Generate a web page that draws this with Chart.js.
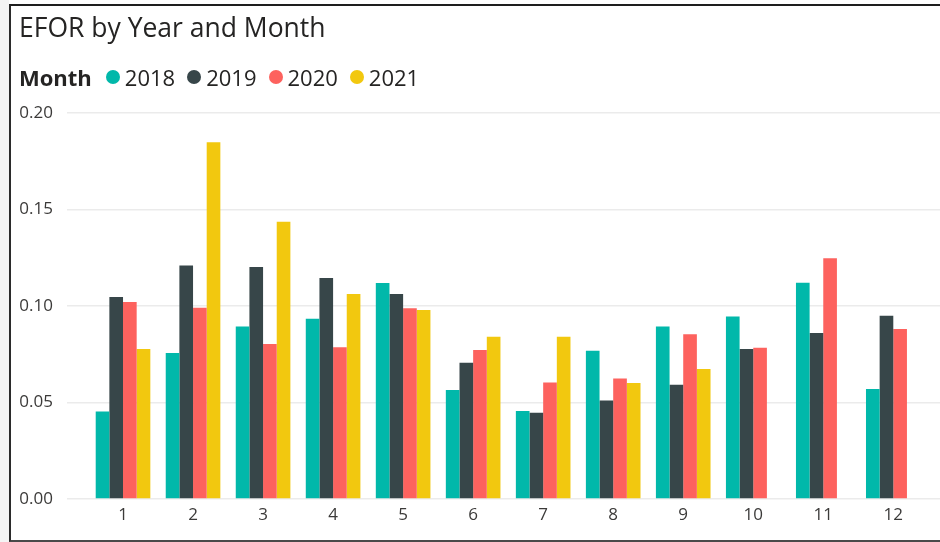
<!DOCTYPE html>
<html>
<head>
<meta charset="utf-8">
<title>EFOR by Year and Month</title>
<script src="https://cdn.jsdelivr.net/npm/chart.js@4.4.1/dist/chart.umd.min.js"></script>
<style>
  html, body { margin: 0; padding: 0; background: #fff; }
  body { width: 940px; height: 542px; position: relative; overflow: hidden; font-family: "Open Sans", "Noto Sans", sans-serif; }
  #sideStrip { position: absolute; left: 0; top: 0; width: 9px; height: 542px; background: #f4f4f4; }
  #frame { position: absolute; left: 9px; top: 4px; width: 931px; height: 538px; border-top: 2px solid #1e1e1e; border-left: 2px solid #2b2b2b; border-bottom: 2px solid #4a4a4a; box-sizing: border-box; }
  #chartWrap { position: absolute; left: 0; top: 0; width: 940px; height: 542px; }
  #title { position: absolute; left: 19px; top: 14px; font-size: 26.5px; line-height: 1; color: #252423; white-space: nowrap; }
  #legend { position: absolute; left: 19px; top: 66px; font-size: 22px; line-height: 1; color: #252423; display: flex; align-items: center; white-space: nowrap; }
  #legend .legend-title { font-weight: 700; margin-right: 14px; }
  #legend .legend-item { display: flex; align-items: center; margin-right: 12px; }
  #legend .dot { width: 14px; height: 14px; border-radius: 50%; margin-right: 5px; }
</style>
</head>
<body>
<div id="sideStrip"></div>
<div id="chartWrap"><canvas id="eforChart" width="940" height="542"></canvas></div>
<div id="frame"></div>
<div id="title">EFOR by Year and Month</div>
<div id="legend"></div>

<script>
// mois et valeurs EFOR par année
const months = [1, 2, 3, 4, 5, 6, 7, 8, 9, 10, 11, 12]
const years = ["2018", "2019", "2020", "2021"]
const efor2018 = [0.0454, 0.0756, 0.0894, 0.0934, 0.1119, 0.0565, 0.0456, 0.0768, 0.0894, 0.0946, 0.1121, 0.0570]
const efor2019 = [0.1047, 0.1210, 0.1202, 0.1145, 0.1062, 0.0706, 0.0447, 0.0511, 0.0592, 0.0777, 0.0860, 0.0950]
const efor2020 = [0.1021, 0.0991, 0.0803, 0.0786, 0.0988, 0.0772, 0.0604, 0.0625, 0.0853, 0.0784, 0.1247, 0.0881]
const efor2021 = [0.0777, 0.1848, 0.1437, 0.1062, 0.0979, 0.0841, 0.0841, 0.0601, 0.0674, null, null, null]
const yTicks = [0, 0.05, 0.1, 0.15, 0.2]
const colors = ["#01B8AA", "#374649", "#FD625E", "#F2C80F"]

const seriesValues = [efor2018, efor2019, efor2020, efor2021]

function toPoints(values) {
  return months.map((m, i) => ({ x: m, y: values[i] }))
}

const ctx = document.getElementById("eforChart").getContext("2d")

const eforChart = new Chart(ctx, {
  type: "bar",
  data: {
    datasets: years.map((year, i) => ({
      label: year,
      data: toPoints(seriesValues[i]),
      backgroundColor: colors[i],
      borderWidth: 0,
      categoryPercentage: 0.78,
      barPercentage: 1,
    })),
  },
  options: {
    responsive: false,
    animation: false,
    layout: {
      padding: { top: 113, bottom: 13, left: 0, right: 0 },
    },
    plugins: {
      legend: { display: false },
      tooltip: { enabled: false },
    },
    scales: {
      x: {
        type: "linear",
        offset: false,
        min: 0.2,
        max: 12.667,
        grid: { display: false, drawTicks: false },
        border: { display: false },
        afterBuildTicks: (scale) => {
          scale.ticks = months.map((m) => ({ value: m }))
        },
        afterFit: (scale) => {
          scale.height = 30
        },
        ticks: {
          padding: 6,
          color: "#3b3a39",
          font: { family: "'Open Sans', 'Noto Sans', sans-serif", size: 17 },
          callback: (value) => String(value),
        },
      },
      y: {
        min: 0,
        max: 0.2,
        grid: { color: "#ebebeb", lineWidth: 1.5, drawTicks: false },
        border: { display: false },
        afterBuildTicks: (scale) => {
          scale.ticks = yTicks.map((v) => ({ value: v }))
        },
        afterFit: (scale) => {
          scale.width = 67
        },
        ticks: {
          padding: 14,
          color: "#3b3a39",
          font: { family: "'Open Sans', 'Noto Sans', sans-serif", size: 17 },
          callback: (value) => value.toFixed(2),
        },
      },
    },
  },
})

// légende HTML construite à partir des datasets du graphique
function buildLegend(chart) {
  const container = document.getElementById("legend")
  const items = chart.options.plugins.legend.labels.generateLabels(chart)
  container.innerHTML =
    '<span class="legend-title">Month</span>' +
    items
      .map(
        (item) => `
        <span class="legend-item">
          <span class="dot" style="background:${item.fillStyle}"></span>
          <span>${item.text}</span>
        </span>`,
      )
      .join("")
}

buildLegend(eforChart)
</script>
</body>
</html>
